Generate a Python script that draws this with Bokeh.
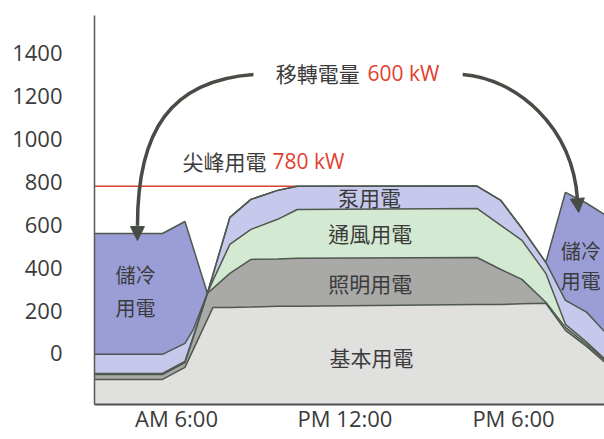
import numpy as np
from bokeh.plotting import figure
from bokeh.models import Range1d, FixedTicker, Arrow, NormalHead
from bokeh.core.properties import value
from bokeh.embed import file_html
from bokeh.resources import INLINE

# Hour of day for each sample of the daily load profile
HOURS = [3.0, 5.5, 6.3, 6.6, 7.1, 7.3, 7.9, 8.65, 9.6, 10.3, 16.7, 17.55, 18.3, 19.15, 19.85, 20.6, 21.3]

# Floor of the chart (kW) that the base load is stacked on
FLOOR = -238
Y_TOP = 1577

# Load of each use (kW), stacked from the bottom up
BASE = [117, 117, 173, 257, 397, 453, 453, 455, 458, 458, 467, 467, 470, 472, 346, 271, 192]
LIGHTING = [23, 23, 23, 56, 122, 89, 159, 222, 221, 224, 219, 163, 114, 5, 14, 10, 9]
VENTILATION = [5, 5, 5, 5, 0, 37, 135, 140, 185, 228, 229, 206, 182, 135, 14, 10, 5]
PUMP = [89, 89, 84, 33, 0, 28, 126, 140, 135, 108, 104, 116, 56, 51, 112, 140, 126]
STORAGE = [564, 564, 569, 378, 0, 0, 0, 0, 0, 0, 0, 0, 0, 0, 504, 508, 550]

LAYER_NAMES = ["基本用電", "照明用電", "通風用電", "泵用電", "儲冷用電"]
LAYER_COLORS = ["#e0e0df", "#a9a9a7", "#d4e9d1", "#c6c9ec", "#9a9dd6"]

PEAK_KW = 780
SHIFT_KW = 600

Y_TICKS = [0, 200, 400, 600, 800, 1000, 1200, 1400]
X_TICKS = [6, 12, 18]
X_LABELS = ["AM 6:00", "PM 12:00", "PM 6:00"]

# Label anchors (hour, kW)
LAYER_LABEL_X = [12.94, 12.9, 12.9, 12.87]
LAYER_LABEL_Y = [-18, 331, 560, 728]
STORE_LABEL_X = [4.54, 4.54, 20.39, 20.39]
STORE_LABEL_Y = [368, 214, 480, 340]
STORE_LABEL_TEXT = ["儲冷", "用電", "儲冷", "用電"]

SHIFT_TITLE_X, SHIFT_VALUE_X, SHIFT_TEXT_Y = 9.53, 12.8, 1311
PEAK_TITLE_X, PEAK_VALUE_X, PEAK_TEXT_Y = 6.21, 9.42, 900

# Curved arrows moving the storage load (start, control 1, control 2, end, tip)
ARROW_LEFT = [(8.74, 1302), (5.79, 1274), (4.61, 1040), (4.61, 596), (4.61, 527)]
ARROW_RIGHT = [(16.19, 1302), (18.07, 1283), (20.10, 1064), (20.28, 716), (20.32, 658)]

OUTLINE = "#4e584e"
TEXT_C = "#3b3b3b"
RED = "#e2402f"
ARROW_C = "#474d45"
CJK = "Noto Sans CJK TC"
LATIN = "Open Sans"

p = figure(width=604, height=439,
           x_range=Range1d(3.08, 21.24), y_range=Range1d(FLOOR, Y_TOP),
           output_backend="svg", toolbar_location=None,
           min_border_left=94, min_border_right=0,
           min_border_top=15, min_border_bottom=35)
p.outline_line_color = None
p.xgrid.visible = False
p.ygrid.visible = False
p.background_fill_color = "white"
p.border_fill_color = "white"

# Axes
p.yaxis.ticker = FixedTicker(ticks=Y_TICKS)
p.yaxis.major_tick_line_color = None
p.yaxis.minor_tick_line_color = None
p.yaxis.major_tick_out = 0
p.yaxis.major_tick_in = 0
p.yaxis.minor_tick_out = 0
p.yaxis.major_label_standoff = 32
p.yaxis.major_label_text_font = LATIN
p.yaxis.major_label_text_font_size = "22px"
p.yaxis.major_label_text_color = TEXT_C
p.yaxis.axis_line_color = "#555a55"
p.yaxis.axis_line_width = 1.5

p.xaxis.ticker = FixedTicker(ticks=X_TICKS)
p.xaxis.major_label_overrides = {t: s for t, s in zip(X_TICKS, X_LABELS)}
p.xaxis.major_tick_line_color = None
p.xaxis.minor_tick_line_color = None
p.xaxis.major_tick_out = 0
p.xaxis.major_tick_in = 0
p.xaxis.minor_tick_out = 0
p.xaxis.major_label_standoff = -2
p.xaxis.major_label_text_font = LATIN
p.xaxis.major_label_text_font_size = "22px"
p.xaxis.major_label_text_color = TEXT_C
p.xaxis.axis_line_color = "#4e524e"
p.xaxis.axis_line_width = 2

# Stacked areas
x = np.array(HOURS, dtype=float)
layers = [BASE, LIGHTING, VENTILATION, PUMP, STORAGE]
lower = np.full(len(x), float(FLOOR))
tops = []
for vals, color in zip(layers, LAYER_COLORS):
    upper = lower + np.array(vals, dtype=float)
    p.varea(x=x, y1=lower, y2=upper, fill_color=color)
    tops.append(upper)
    lower = upper

# Peak demand line, from the left edge to where the load first reaches it
total = tops[-2]
peak_start = x[np.argmax(total >= PEAK_KW)]
p.line([p.x_range.start, peak_start], [PEAK_KW, PEAK_KW], line_color=RED, line_width=1.6)

for upper in tops:
    p.line(x, upper, line_color=OUTLINE, line_width=1.5)

# Layer names
p.text(x=LAYER_LABEL_X, y=LAYER_LABEL_Y, text=LAYER_NAMES[:4],
       text_font=value(CJK), text_font_size="21px", text_color=TEXT_C,
       text_align="center", text_baseline="middle")
p.text(x=STORE_LABEL_X, y=STORE_LABEL_Y, text=STORE_LABEL_TEXT,
       text_font=value(CJK), text_font_size="20px", text_color=TEXT_C,
       text_align="center", text_baseline="middle")

# Annotations
p.text(x=[SHIFT_TITLE_X], y=[SHIFT_TEXT_Y], text=["移轉電量"],
       text_font=value(CJK), text_font_size="21px", text_color=TEXT_C,
       text_align="left", text_baseline="middle")
p.text(x=[SHIFT_VALUE_X], y=[SHIFT_TEXT_Y], text=[f"{SHIFT_KW} kW"],
       text_font=value(LATIN), text_font_size="21px", text_color=RED,
       text_align="left", text_baseline="middle")
p.text(x=[PEAK_TITLE_X], y=[PEAK_TEXT_Y], text=["尖峰用電"],
       text_font=value(CJK), text_font_size="21px", text_color=TEXT_C,
       text_align="left", text_baseline="middle")
p.text(x=[PEAK_VALUE_X], y=[PEAK_TEXT_Y], text=[f"{PEAK_KW} kW"],
       text_font=value(LATIN), text_font_size="21px", text_color=RED,
       text_align="left", text_baseline="middle")

# Curved arrows
for pts in (ARROW_LEFT, ARROW_RIGHT):
    (x0, y0), (cx0, cy0), (cx1, cy1), (x1, y1), (xt, yt) = pts
    p.bezier(x0=[x0], y0=[y0], x1=[x1], y1=[y1], cx0=[cx0], cy0=[cy0],
             cx1=[cx1], cy1=[cy1], line_color=ARROW_C, line_width=3.5)
    p.add_layout(Arrow(end=NormalHead(size=14, fill_color=ARROW_C, line_color=ARROW_C, line_width=1),
                       x_start=x1, y_start=y1, x_end=xt, y_end=yt,
                       line_color=ARROW_C, line_width=3.5))

open("out.html", "w").write(file_html(p, INLINE))
